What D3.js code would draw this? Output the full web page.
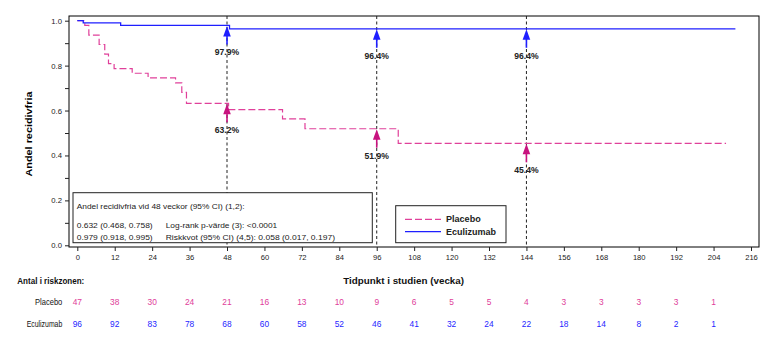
<!DOCTYPE html>
<html><head><meta charset="utf-8">
<script src="https://cdn.jsdelivr.net/npm/d3@7"></script>
<style>
html,body{margin:0;padding:0;background:#fff;}
svg{display:block;font-family:"Liberation Sans",Arial,sans-serif;}
</style></head>
<body>
<svg id="chart" width="778" height="339"></svg>
<script>
// ---- data ----
const xTicks = d3.range(0, 217, 12);
const riskWeeks = d3.range(0, 205, 12);
const riskPlacebo = [47,38,30,24,21,16,13,10,9,6,5,5,4,3,3,3,3,1];
const riskEculizumab = [96,92,83,78,68,60,58,52,46,41,32,24,22,18,14,8,2,1];
const placeboTimes = [0,2.4,3.7,7.0,8.8,10.0,11.8,17.6,22.7,31.5,33.5,35.0,48.5,65.8,73.0,102.9,208];
const placeboSurv  = [1.0,0.979,0.936,0.894,0.851,0.809,0.787,0.766,0.745,0.723,0.681,0.632,0.604,0.563,0.519,0.454,0.454];
const eculTimes = [0,1.9,13.9,48.8,211];
const eculSurv  = [1.0,0.990,0.979,0.964,0.964];
const landmarkWeeks = [48,96,144];
const landmarkEcul = [0.979,0.964,0.964];
const landmarkPlacebo = [0.632,0.519,0.454];
const seriesNames = ["Placebo","Eculizumab"];

const pink = "#e0409a", pinkDark = "#c8137f", blue = "#1f1fff";

const svg = d3.select("#chart");
const L = 69, R = 759, T = 16, B = 247;
const x = d3.scaleLinear().domain([0,216]).range([77.3,751]);
const y = d3.scaleLinear().domain([0,1]).range([245.3,20.7]);

// frame
svg.append("rect").attr("x",L).attr("y",T).attr("width",R-L).attr("height",B-T)
  .attr("fill","none").attr("stroke","#000").attr("stroke-width",1);

// x axis
const xAxis = d3.axisBottom(x).tickValues(xTicks).tickSize(4).tickPadding(4).tickSizeOuter(0);
const gx = svg.append("g").attr("transform",`translate(0,${B})`).call(xAxis);
gx.select(".domain").remove();
gx.selectAll("text").attr("font-size",7.6).attr("fill","#222").attr("font-family","Liberation Sans, Arial, sans-serif");
gx.selectAll("line").attr("stroke","#222");

// y axis
const yAxis = d3.axisLeft(y).tickValues(d3.range(0,1.01,0.1)).tickSize(4).tickPadding(3)
  .tickFormat(d => (Math.round(d*10)%2===0) ? d3.format(".1f")(d) : "").tickSizeOuter(0);
const gy = svg.append("g").attr("transform",`translate(${L},0)`).call(yAxis);
gy.select(".domain").remove();
gy.selectAll("text").attr("font-size",7.7).attr("fill","#222").attr("font-family","Liberation Sans, Arial, sans-serif");
gy.selectAll("line").attr("stroke","#222");

// y title
svg.append("text").attr("transform","translate(32,134) rotate(-90)")
  .attr("text-anchor","middle").attr("font-size",9.5).attr("font-weight","bold")
  .attr("textLength",85).attr("lengthAdjust","spacingAndGlyphs")
  .text("Andel recidivfria");

// landmark dashed lines
svg.selectAll("line.lm").data(landmarkWeeks).enter().append("line")
  .attr("x1",d=>x(d)).attr("x2",d=>x(d)).attr("y1",T).attr("y2",B)
  .attr("stroke","#222").attr("stroke-width",1).attr("stroke-dasharray","3,2.5");

// curves
const line = d3.line().x(d=>x(d[0])).y(d=>y(d[1])).curve(d3.curveStepAfter);
svg.append("path").datum(placeboTimes.map((t,i)=>[t,placeboSurv[i]]))
  .attr("d",line).attr("fill","none").attr("stroke",pink).attr("stroke-width",1.2)
  .attr("stroke-dasharray","7,3");
svg.append("path").datum(eculTimes.map((t,i)=>[t,eculSurv[i]]))
  .attr("d",line).attr("fill","none").attr("stroke",blue).attr("stroke-width",1.3);

// arrows + labels
function arrow(wk, s, color){
  const px = x(wk), py = y(s);
  svg.append("line").attr("x1",px).attr("x2",px).attr("y1",py+8).attr("y2",py+19)
    .attr("stroke",color).attr("stroke-width",1.6);
  svg.append("path").attr("d",`M${px},${py+0.5} L${px-3.8},${py+11} L${px+3.8},${py+11} Z`)
    .attr("fill",color);
  svg.append("text").attr("x",px).attr("y",py+27).attr("text-anchor","middle")
    .attr("dominant-baseline","central").attr("font-size",8.6).attr("font-weight","bold")
    .attr("fill","#222").text(d3.format(".1f")(s*100)+"%");
}
landmarkWeeks.forEach((w,i)=>{ arrow(w, landmarkEcul[i], blue); arrow(w, landmarkPlacebo[i], pinkDark); });

// stats box
svg.append("rect").attr("x",73).attr("y",192.7).attr("width",299.3).attr("height",50)
  .attr("fill","#fff").attr("stroke","#222").attr("stroke-width",1);
const boxText = [
  {t:"Andel recidivfria vid 48 veckor (95% CI) (1,2):", x:76.7, y:206.7, w:168},
  {t:"0.632 (0.468, 0.758)", x:76.7, y:225.3, w:76},
  {t:"Log-rank p-värde (3): <0.0001", x:165.7, y:225.3, w:111.6},
  {t:"0.979 (0.918, 0.995)", x:76.7, y:237, w:76},
  {t:"Riskkvot (95% CI) (4,5): 0.058 (0.017, 0.197)", x:165.7, y:237, w:169.3}
];
svg.selectAll("text.bx").data(boxText).enter().append("text")
  .attr("x",d=>d.x).attr("y",d=>d.y).attr("dominant-baseline","central")
  .attr("font-size",8).attr("fill","#222")
  .attr("textLength",d=>d.w).attr("lengthAdjust","spacingAndGlyphs").text(d=>d.t);

// legend
svg.append("rect").attr("x",395.7).attr("y",205.7).attr("width",110.3).attr("height",37)
  .attr("fill","#fff").attr("stroke","#222").attr("stroke-width",1);
const legY = [219.3, 231.7];
seriesNames.forEach((n,i)=>{
  svg.append("line").attr("x1",405).attr("x2",441).attr("y1",legY[i]).attr("y2",legY[i])
    .attr("stroke", i===0?pink:blue).attr("stroke-width",1.3)
    .attr("stroke-dasharray", i===0?"7,3":null);
  svg.append("text").attr("x",446).attr("y",legY[i]).attr("dominant-baseline","central")
    .attr("font-size",8.6).attr("font-weight","bold").attr("fill","#222")
    .attr("textLength", i===0?34.7:50).attr("lengthAdjust","spacingAndGlyphs").text(n);
});

// x title and risk table header
svg.append("text").attr("x",343.3).attr("y",280).attr("dominant-baseline","central")
  .attr("font-size",9.5).attr("font-weight","bold").attr("fill","#111")
  .attr("textLength",120.7).attr("lengthAdjust","spacingAndGlyphs").text("Tidpunkt i studien (vecka)");
svg.append("text").attr("x",17.3).attr("y",280).attr("dominant-baseline","central")
  .attr("font-size",9.5).attr("font-weight","bold").attr("fill","#111")
  .attr("textLength",67).attr("lengthAdjust","spacingAndGlyphs").text("Antal i riskzonen:");

// risk table
const rows = [{name:"Placebo", vals:riskPlacebo, c:pink, y:301.7, w:27.3},
              {name:"Eculizumab", vals:riskEculizumab, c:blue, y:324.3, w:35.6}];
rows.forEach(r=>{
  svg.append("text").attr("x",62.3).attr("y",r.y).attr("text-anchor","end")
    .attr("dominant-baseline","central").attr("font-size",8.4).attr("fill","#111")
    .attr("textLength",r.w).attr("lengthAdjust","spacingAndGlyphs").text(r.name);
  svg.selectAll(null).data(r.vals).enter().append("text")
    .attr("x",(d,i)=>x(riskWeeks[i])).attr("y",r.y).attr("text-anchor","middle")
    .attr("dominant-baseline","central").attr("font-size",8.4).attr("fill",r.c).text(d=>d);
});
</script>
</body></html>
